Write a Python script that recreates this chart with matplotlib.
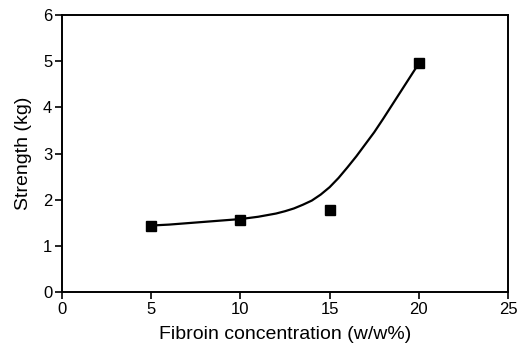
import matplotlib
matplotlib.use('Agg')
import matplotlib.pyplot as plt

plt.rcParams['font.family'] = ['Liberation Sans', 'DejaVu Sans']

# measured points
conc = [5, 10, 15, 20]
strength = [1.44, 1.57, 1.78, 4.95]

# fitted curve
curve_x = [5, 6, 7, 8, 9, 10, 11, 12, 12.5, 13, 13.5, 14, 14.5, 15, 15.5,
	16, 16.5, 17, 17.5, 18, 18.5, 19, 19.5, 20]
curve_y = [1.44, 1.46, 1.49, 1.52, 1.55, 1.58, 1.63, 1.70, 1.75, 1.81, 1.89,
	1.98, 2.11, 2.27, 2.47, 2.70, 2.94, 3.20, 3.46, 3.75, 4.05, 4.35, 4.65, 4.95]

xticks = [0, 5, 10, 15, 20, 25]
yticks = [0, 1, 2, 3, 4, 5, 6]

fig = plt.figure(figsize=(5.18, 3.53), dpi=100)
ax = fig.add_axes([0.1197, 0.1728, 0.8610, 0.7847])

ax.plot(curve_x, curve_y, color='black', lw=1.6, zorder=2)
ax.plot(conc, strength, 's', color='black', ms=6.8, zorder=3)

ax.set_xlim(0, 25)
ax.set_ylim(0, 6)
ax.set_xticks(xticks)
ax.set_yticks(yticks)
for s in ax.spines.values():
	s.set_linewidth(1.4)
ax.tick_params(direction='out', length=5, width=1.2, labelsize=12, colors='black', pad=2)

ax.set_xlabel('Fibroin concentration (w/w%)', fontsize=14, labelpad=7)
ax.set_ylabel('Strength (kg)', fontsize=14, labelpad=8)

fig.savefig('out.png', dpi=100)
